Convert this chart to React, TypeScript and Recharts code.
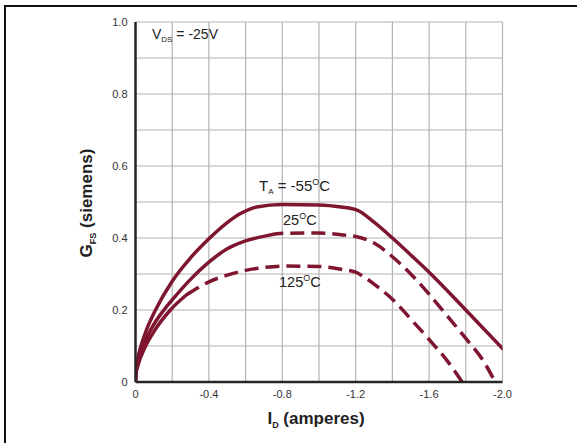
import { LineChart, Line, XAxis, YAxis, CartesianGrid } from "recharts";

// I_D (amperes) and G_FS (siemens)
const currentM55 = [0, -0.003, -0.01, -0.033, -0.06, -0.109, -0.2, -0.3, -0.4, -0.5, -0.58, -0.66, -0.8, -1.0, -1.12, -1.21, -1.3, -1.4, -1.5, -1.6, -1.8, -2.0];
const gfsM55 = [0, 0.03, 0.058, 0.105, 0.145, 0.2, 0.28, 0.345, 0.398, 0.443, 0.47, 0.486, 0.493, 0.492, 0.486, 0.477, 0.444, 0.4, 0.353, 0.305, 0.2, 0.093];

const current25 = [0, -0.003, -0.01, -0.042, -0.1, -0.155, -0.2, -0.3, -0.4, -0.5, -0.6, -0.73, -0.8, -1.0, -1.12, -1.2, -1.3, -1.4, -1.5, -1.6, -1.7, -1.8, -1.9, -1.96];
const gfs25 = [0, 0.028, 0.05, 0.1, 0.16, 0.2, 0.228, 0.285, 0.333, 0.37, 0.392, 0.408, 0.413, 0.414, 0.409, 0.404, 0.386, 0.348, 0.3, 0.244, 0.183, 0.121, 0.055, 0];

const current125 = [0, -0.003, -0.01, -0.055, -0.1, -0.19, -0.28, -0.4, -0.5, -0.6, -0.7, -0.8, -1.0, -1.12, -1.2, -1.25, -1.3, -1.4, -1.5, -1.6, -1.7, -1.78];
const gfs125 = [0, 0.024, 0.04, 0.1, 0.14, 0.2, 0.243, 0.278, 0.297, 0.31, 0.318, 0.322, 0.321, 0.313, 0.305, 0.29, 0.272, 0.23, 0.175, 0.118, 0.058, 0];

// where the drawn curve turns from solid to dashed
const solidTo25 = -0.73;
const solidTo125 = -0.28;

const xTicks = [0, -0.2, -0.4, -0.6, -0.8, -1.0, -1.2, -1.4, -1.6, -1.8, -2.0];
const yTicks = [0, 0.1, 0.2, 0.3, 0.4, 0.5, 0.6, 0.7, 0.8, 0.9, 1.0];

const CURVE = "#7e1630";
const FRAME = "#262626";
const FONT = '"Liberation Sans", Arial, Helvetica, sans-serif';

const toPoints = (xs: number[], ys: number[]) => xs.map((x, i) => ({ x, g: ys[i] }));

const m55 = toPoints(currentM55, gfsM55);
const all25 = toPoints(current25, gfs25);
const all125 = toPoints(current125, gfs125);
const solid25 = all25.filter((p) => p.x >= solidTo25);
const dash25 = all25.filter((p) => p.x <= solidTo25);
const solid125 = all125.filter((p) => p.x >= solidTo125);
const dash125 = all125.filter((p) => p.x <= solidTo125);

const fmtX = (v: number) => {
  if (Math.round(v * 10) % 4 !== 0) return "";
  return v === 0 ? "0" : v.toFixed(1);
};
const fmtY = (v: number) => {
  if (Math.round(v * 10) % 2 !== 0) return "";
  return v === 0 ? "0" : v.toFixed(1);
};

const sub = { fontSize: 8, position: "relative" as const, top: 3 };
const sup = { fontSize: 9, position: "relative" as const, top: -6 };

export default function App() {
  const tickStyle = { fontSize: 11, fill: "#333", fontFamily: FONT };
  return (
    <div
      style={{
        position: "absolute",
        left: 0,
        top: 0,
        width: 577,
        height: 443,
        background: "#fff",
        overflow: "hidden",
        fontFamily: FONT,
        color: "#222",
      }}
    >
      <div
        style={{
          position: "absolute",
          left: 4,
          top: 5,
          right: -10,
          bottom: -10,
          borderLeft: "2.5px solid #111",
          borderTop: "2.5px solid #111",
        }}
      />
      <LineChart
        width={577}
        height={443}
        margin={{ top: 22, right: 74.5, bottom: 0, left: 0 }}
        style={{ position: "absolute", left: 0, top: 0 }}
      >
        <CartesianGrid stroke="#b3b3b3" strokeWidth={1.2} />
        <XAxis
          dataKey="x"
          type="number"
          domain={[-2, 0]}
          reversed
          allowDataOverflow
          ticks={xTicks}
          interval={0}
          tickFormatter={fmtX}
          tick={tickStyle}
          tickSize={0}
          tickMargin={8.5}
          tickLine={false}
          axisLine={{ stroke: FRAME, strokeWidth: 2.5 }}
          height={61}
        />
        <XAxis
          xAxisId="top"
          orientation="top"
          type="number"
          domain={[-2, 0]}
          reversed
          height={0}
          tick={false}
          tickLine={false}
          axisLine={{ stroke: FRAME, strokeWidth: 2.5 }}
        />
        <YAxis
          type="number"
          domain={[0, 1]}
          allowDataOverflow
          ticks={yTicks}
          interval={0}
          tickFormatter={fmtY}
          tick={tickStyle}
          tickSize={0}
          tickMargin={8}
          tickLine={false}
          axisLine={{ stroke: FRAME, strokeWidth: 2.5 }}
          width={135.5}
        />
        <YAxis
          yAxisId="right"
          orientation="right"
          type="number"
          domain={[0, 1]}
          width={0}
          tick={false}
          tickLine={false}
          axisLine={{ stroke: FRAME, strokeWidth: 2.5 }}
        />
        <Line data={m55} dataKey="g" type="monotone" stroke={CURVE} strokeWidth={3.5} strokeLinecap="round" strokeLinejoin="round" dot={false} isAnimationActive={false} />
        <Line data={solid25} dataKey="g" type="monotone" stroke={CURVE} strokeWidth={3.5} strokeLinecap="round" dot={false} isAnimationActive={false} />
        <Line data={dash25} dataKey="g" type="monotone" stroke={CURVE} strokeWidth={3.5} strokeDasharray="14 7" dot={false} isAnimationActive={false} />
        <Line data={solid125} dataKey="g" type="monotone" stroke={CURVE} strokeWidth={3.5} strokeLinecap="round" dot={false} isAnimationActive={false} />
        <Line data={dash125} dataKey="g" type="monotone" stroke={CURVE} strokeWidth={3.5} strokeDasharray="14 7" dot={false} isAnimationActive={false} />
      </LineChart>

      <div style={{ position: "absolute", left: 152, top: 27, fontSize: 14, lineHeight: 1, whiteSpace: "nowrap" }}>
        V<span style={sub}>DS</span> = -25V
      </div>
      <div style={{ position: "absolute", left: 259, top: 177.5, fontSize: 15, lineHeight: 1, whiteSpace: "nowrap" }}>
        T<span style={sub}>A</span> = -55<span style={sup}>O</span>C
      </div>
      <div style={{ position: "absolute", left: 283, top: 212.5, fontSize: 14.5, lineHeight: 1, whiteSpace: "nowrap" }}>
        25<span style={sup}>O</span>C
      </div>
      <div style={{ position: "absolute", left: 279, top: 274.5, fontSize: 14.5, lineHeight: 1, whiteSpace: "nowrap" }}>
        125<span style={sup}>O</span>C
      </div>

      <div
        style={{
          position: "absolute",
          left: 316,
          top: 410,
          transform: "translateX(-50%)",
          fontSize: 17,
          fontWeight: "bold",
          lineHeight: 1,
          whiteSpace: "nowrap",
        }}
      >
        I<span style={{ fontSize: 9, position: "relative", top: 4 }}>D</span> (amperes)
      </div>
      <div
        style={{
          position: "absolute",
          left: 86,
          top: 202.5,
          transform: "translate(-50%, -50%) rotate(-90deg)",
          fontSize: 17,
          fontWeight: "bold",
          lineHeight: 1,
          whiteSpace: "nowrap",
        }}
      >
        G<span style={{ fontSize: 9, position: "relative", top: 4 }}>FS</span> (siemens)
      </div>
    </div>
  );
}
